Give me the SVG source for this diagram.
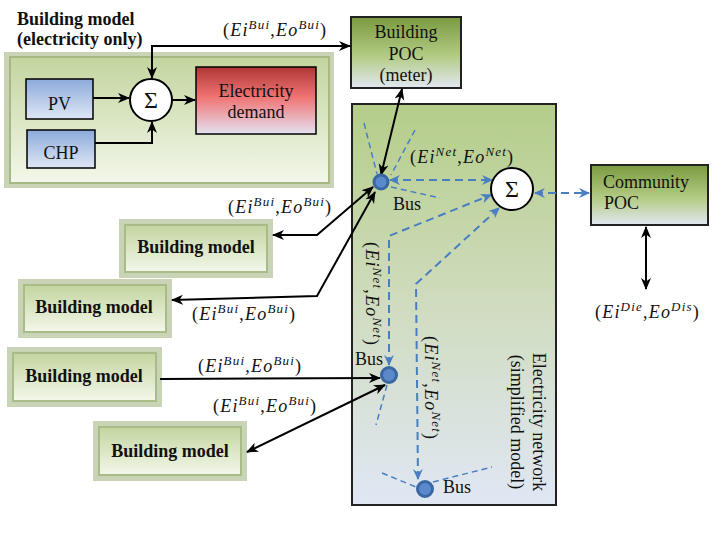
<svg xmlns="http://www.w3.org/2000/svg" width="722" height="536" viewBox="0 0 722 536">
<style>
text{font-family:'Liberation Serif','DejaVu Serif','Times New Roman',serif}
.t{font-size:18px;fill:#111}
.tb{font-size:18px;font-weight:bold;fill:#111}
.m{font-size:18px;fill:#111;letter-spacing:1.2px}
.i{font-style:italic}
.s{font-style:italic;font-size:13px}
.k{fill:none;stroke:#000;stroke-width:2}
.bl{fill:none;stroke:#4a7ec2;stroke-width:2;stroke-dasharray:8 5}
.st{fill:none;stroke:#4a7ec2;stroke-width:1.5;stroke-dasharray:6 4}
.frame{fill:#c9d3b6}
.bm{fill:url(#gBM);stroke:#a9bc88;stroke-width:2}
.bus{fill:#5a8acb;stroke:#3a66a2;stroke-width:3}
.sig{fill:#fff;stroke:#000;stroke-width:2}
</style>
<defs>
<linearGradient id="gBM" x1="0" y1="0" x2="0" y2="1"><stop offset="0" stop-color="#c3d59f"/><stop offset="1" stop-color="#f3f7ea"/></linearGradient>
<linearGradient id="gPOC" x1="0" y1="0" x2="0" y2="1"><stop offset="0" stop-color="#7a9a40"/><stop offset="0.55" stop-color="#b3cb84"/><stop offset="1" stop-color="#e2e8f2"/></linearGradient>
<linearGradient id="gNet" x1="0" y1="0" x2="0" y2="1"><stop offset="0" stop-color="#b4cd89"/><stop offset="0.5" stop-color="#d0dcbf"/><stop offset="1" stop-color="#e0e7f4"/></linearGradient>
<linearGradient id="gRed" x1="0" y1="0" x2="0" y2="1"><stop offset="0" stop-color="#b03636"/><stop offset="0.45" stop-color="#f07474"/><stop offset="1" stop-color="#e4e1f1"/></linearGradient>
<linearGradient id="gBlue" x1="0" y1="0" x2="0" y2="1"><stop offset="0" stop-color="#8caadb"/><stop offset="1" stop-color="#dfe7f5"/></linearGradient>
<marker id="ak" viewBox="0 0 12 12" refX="11" refY="6" markerWidth="12" markerHeight="12" markerUnits="userSpaceOnUse" orient="auto-start-reverse"><path d="M0,1 L12,6 L0,11 L3.5,6 z" fill="#000"/></marker>
<marker id="ab" viewBox="0 0 10 10" refX="9" refY="5" markerWidth="11" markerHeight="11" markerUnits="userSpaceOnUse" orient="auto-start-reverse"><path d="M0,0.5 L10,5 L0,9.5 L3,5 z" fill="#4a7ec2"/></marker>
</defs>
<rect width="722" height="536" fill="#fff"/>

<g id="building-main">
<text class="tb" x="17" y="25">Building model</text>
<text class="tb" x="17" y="45">(electricity only)</text>
<rect class="frame" x="4" y="52" width="330" height="136"/>
<rect x="10" y="57" width="319" height="126" fill="url(#gBM)" stroke="#a6b985" stroke-width="2"/>
</g>
<g id="pv"><rect x="26" y="79" width="67" height="40" fill="url(#gBlue)" stroke="#000" stroke-width="1.5"/><text class="t" x="59.5" y="110" text-anchor="middle">PV</text></g>
<g id="chp"><rect x="27" y="130" width="68" height="38" fill="url(#gBlue)" stroke="#000" stroke-width="1.5"/><text class="t" x="61" y="159" text-anchor="middle">CHP</text></g>
<g id="sum1"><circle class="sig" cx="151" cy="100" r="21"/><text class="t" x="151" y="108" text-anchor="middle" style="font-size:24px">Σ</text></g>
<g id="demand"><rect x="196" y="67" width="120" height="67" fill="url(#gRed)" stroke="#000" stroke-width="1.5"/><text class="t" x="256" y="97" text-anchor="middle">Electricity</text><text class="t" x="256" y="118" text-anchor="middle">demand</text></g>

<g id="building-poc"><rect x="351" y="17" width="110" height="71" fill="url(#gPOC)" stroke="#222" stroke-width="2"/><text class="t" x="406" y="38" text-anchor="middle">Building</text><text class="t" x="406" y="60" text-anchor="middle">POC</text><text class="t" x="406" y="81" text-anchor="middle">(meter)</text></g>

<g id="network"><rect x="352" y="104" width="204" height="401" fill="url(#gNet)" stroke="#222" stroke-width="2"/>
<g transform="translate(533,422) rotate(90)"><text class="t" x="0" y="0" text-anchor="middle">Electricity network</text><text class="t" x="0" y="22" text-anchor="middle">(simplified model)</text></g>
</g>

<g id="community-poc"><rect x="591" y="165" width="117" height="60" fill="url(#gPOC)" stroke="#222" stroke-width="2"/><text class="t" x="603" y="188">Community</text><text class="t" x="604" y="209">POC</text></g>

<g id="bm1"><rect class="frame" x="119" y="219" width="154" height="59"/><rect class="bm" x="125" y="225" width="142" height="47"/><text class="tb" x="196" y="253" text-anchor="middle">Building model</text></g>
<g id="bm2"><rect class="frame" x="18" y="279" width="154" height="59"/><rect class="bm" x="24" y="285" width="142" height="47"/><text class="tb" x="94" y="313" text-anchor="middle">Building model</text></g>
<g id="bm3"><rect class="frame" x="7" y="347" width="155" height="60"/><rect class="bm" x="13" y="353" width="143" height="48"/><text class="tb" x="84" y="382" text-anchor="middle">Building model</text></g>
<g id="bm4"><rect class="frame" x="93" y="421" width="154" height="60"/><rect class="bm" x="99" y="427" width="142" height="48"/><text class="tb" x="170" y="457" text-anchor="middle">Building model</text></g>

<g id="connectors">
<path class="k" d="M93,98 L129,98" marker-end="url(#ak)"/>
<path class="k" d="M172,100 L195,100" marker-end="url(#ak)"/>
<path class="k" d="M95,143 L152,143 L152,122" marker-end="url(#ak)"/>
<path class="k" d="M152,78 L152,46 L350,46" marker-start="url(#ak)" marker-end="url(#ak)"/>
<path class="k" d="M402,89 L381,175" marker-start="url(#ak)" marker-end="url(#ak)"/>
<path class="k" d="M373,187 L317,235 L273,235" marker-start="url(#ak)" marker-end="url(#ak)"/>
<path class="k" d="M375,192 L317,296 L172,300" marker-start="url(#ak)" marker-end="url(#ak)"/>
<path class="k" d="M160,379 L380,378" marker-end="url(#ak)"/>
<path class="k" d="M385,385 L247,452" marker-start="url(#ak)" marker-end="url(#ak)"/>
<path class="k" d="M646,227 L646,289" marker-start="url(#ak)" marker-end="url(#ak)"/>

<path class="bl" d="M390,180 L492,180" marker-start="url(#ab)" marker-end="url(#ab)"/>
<path class="bl" d="M389,365 L389,236 L491,195" marker-start="url(#ab)" marker-end="url(#ab)"/>
<path class="bl" d="M418,479 L416,284 L499,208" marker-start="url(#ab)" marker-end="url(#ab)"/>
<path class="bl" d="M535,193 L589,193" marker-start="url(#ab)" marker-end="url(#ab)"/>

<path class="st" d="M364,123 L377,174"/>
<path class="st" d="M415,130 L391,175"/>
<path class="st" d="M391,187 L440,198"/>
<path class="st" d="M387,385 L376,425"/>
<path class="st" d="M382,473 L416,487"/>
<path class="st" d="M433,482 L492,467"/>
</g>

<g id="buses">
<circle class="bus" cx="381" cy="182" r="7"/>
<circle class="bus" cx="389" cy="375" r="7.5"/>
<circle class="bus" cx="425" cy="489" r="7.5"/>
<text class="t" x="393" y="210">Bus</text>
<text class="t" x="355" y="365">Bus</text>
<text class="t" x="443" y="493">Bus</text>
</g>
<g id="sum2"><circle class="sig" cx="512" cy="189" r="21"/><text class="t" x="512" y="197" text-anchor="middle" style="font-size:24px">Σ</text></g>

<g id="labels">
<text class="m" x="223" y="36">(<tspan class="i">Ei</tspan><tspan class="s" dy="-7">Bui</tspan><tspan dy="7">,</tspan><tspan class="i">Eo</tspan><tspan class="s" dy="-7">Bui</tspan><tspan dy="7">)</tspan></text>
<text class="m" x="228" y="213">(<tspan class="i">Ei</tspan><tspan class="s" dy="-7">Bui</tspan><tspan dy="7">,</tspan><tspan class="i">Eo</tspan><tspan class="s" dy="-7">Bui</tspan><tspan dy="7">)</tspan></text>
<text class="m" x="192" y="320">(<tspan class="i">Ei</tspan><tspan class="s" dy="-7">Bui</tspan><tspan dy="7">,</tspan><tspan class="i">Eo</tspan><tspan class="s" dy="-7">Bui</tspan><tspan dy="7">)</tspan></text>
<text class="m" x="198" y="372">(<tspan class="i">Ei</tspan><tspan class="s" dy="-7">Bui</tspan><tspan dy="7">,</tspan><tspan class="i">Eo</tspan><tspan class="s" dy="-7">Bui</tspan><tspan dy="7">)</tspan></text>
<text class="m" x="213" y="412">(<tspan class="i">Ei</tspan><tspan class="s" dy="-7">Bui</tspan><tspan dy="7">,</tspan><tspan class="i">Eo</tspan><tspan class="s" dy="-7">Bui</tspan><tspan dy="7">)</tspan></text>
<text class="m" x="410" y="163">(<tspan class="i">Ei</tspan><tspan class="s" dy="-7">Net</tspan><tspan dy="7">,</tspan><tspan class="i">Eo</tspan><tspan class="s" dy="-7">Net</tspan><tspan dy="7">)</tspan></text>
<text class="m" x="595" y="318">(<tspan class="i">Ei</tspan><tspan class="s" dy="-7">Die</tspan><tspan dy="7">,</tspan><tspan class="i">Eo</tspan><tspan class="s" dy="-7">Dis</tspan><tspan dy="7">)</tspan></text>
<g transform="translate(366,242) rotate(90)"><text class="m" x="0" y="0">(<tspan class="i">Ei</tspan><tspan class="s" dy="-7">Net</tspan><tspan dy="7">,</tspan><tspan class="i">Eo</tspan><tspan class="s" dy="-7">Net</tspan><tspan dy="7">)</tspan></text></g>
<g transform="translate(425,336) rotate(90)"><text class="m" x="0" y="0">(<tspan class="i">Ei</tspan><tspan class="s" dy="-7">Net</tspan><tspan dy="7">,</tspan><tspan class="i">Eo</tspan><tspan class="s" dy="-7">Net</tspan><tspan dy="7">)</tspan></text></g>
</g>
</svg>
